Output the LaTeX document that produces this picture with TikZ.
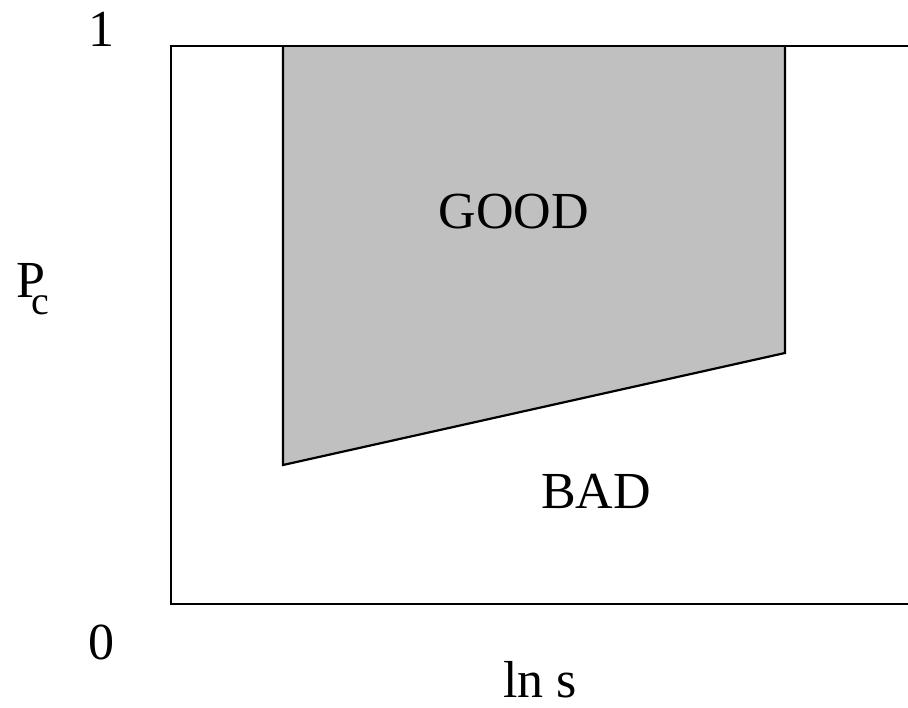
\documentclass[tikz,border=0pt]{standalone}
\usepackage{fontspec}
\setmainfont{Liberation Serif}
\begin{document}
\begin{tikzpicture}[x=1pt,y=-1pt,
  lbl/.style={font=\fontsize{52}{58}\selectfont, inner sep=0pt},
  frame/.style={line width=2.2pt, black},
  region/.style={fill={rgb,255:red,192;green,192;blue,192}, draw=black, line width=2.2pt, line join=miter}]
\useasboundingbox (0,0) rectangle (908,708);
\coordinate (tr) at (908,46);
\coordinate (tl) at (171,46);
\coordinate (bl) at (171,604);
\coordinate (br) at (908,604);
\coordinate (g1) at (283,46);
\coordinate (g2) at (283,465);
\coordinate (g3) at (785,353);
\coordinate (g4) at (785,46);
\draw[region] (g1) -- (g2) -- (g3) -- (g4);
\draw[frame] (tr) -- (tl) -- (bl) -- (br);
\node[lbl] (one) at (101,29) {1};
\node[lbl] (zero) at (101,642) {0};
\node[lbl, anchor=base west] (pc) at (16,298) {P\kern-0.26em\raisebox{-0.32em}{\fontsize{40}{44}\selectfont c}};
\node[lbl] (lns) at (540,680) {ln s};
\node[lbl] (good) at (514,212) {GOOD};
\node[lbl] (bad) at (596,491) {BAD};
\end{tikzpicture}
\end{document}
